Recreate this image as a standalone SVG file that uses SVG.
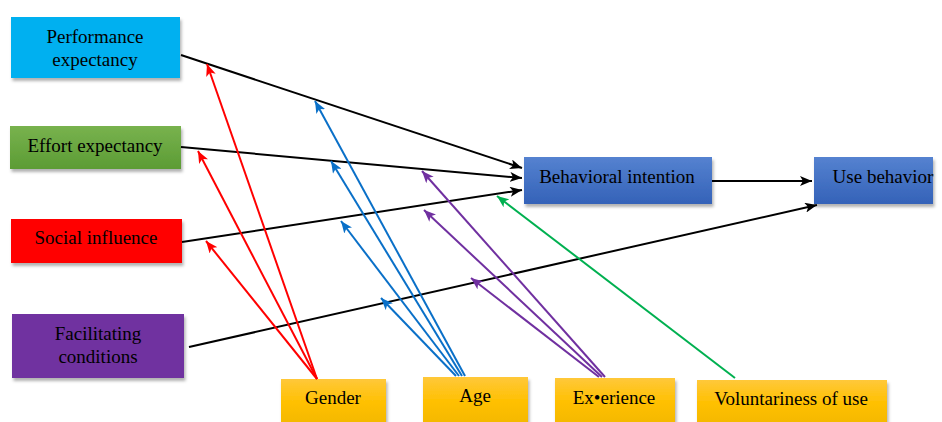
<svg xmlns="http://www.w3.org/2000/svg" width="942" height="422" viewBox="0 0 942 422">
<style>
text{font-family:"Liberation Serif","Times New Roman",serif;font-size:19px;fill:#000;text-anchor:middle}
.box{filter:url(#sh)}
.k{stroke:#000;stroke-width:2;fill:none;marker-end:url(#ak)}
.r{stroke:#ff0000;stroke-width:2;fill:none;marker-end:url(#ar)}
.b{stroke:#0a70c8;stroke-width:2;fill:none;marker-end:url(#ab)}
.p{stroke:#7030a0;stroke-width:2;fill:none;marker-end:url(#ap)}
.g{stroke:#00b050;stroke-width:2;fill:none;marker-end:url(#ag)}
</style>
<defs>
<filter id="sh" x="-10%" y="-10%" width="125%" height="135%">
<feDropShadow dx="1.5" dy="3" stdDeviation="1.5" flood-color="#000" flood-opacity="0.3"/>
</filter>
<linearGradient id="gGreen" x1="0" y1="0" x2="0" y2="1"><stop offset="0" stop-color="#78b24e"/><stop offset="1" stop-color="#5c9c34"/></linearGradient>
<linearGradient id="gBlue" x1="0" y1="0" x2="0" y2="1"><stop offset="0" stop-color="#5582d0"/><stop offset="1" stop-color="#3462b8"/></linearGradient>
<linearGradient id="gYel" x1="0" y1="0" x2="0" y2="1"><stop offset="0" stop-color="#ffc83a"/><stop offset="0.5" stop-color="#ffc000"/><stop offset="1" stop-color="#f2b700"/></linearGradient>
<marker id="ak" viewBox="0 0 12 10" refX="12" refY="5" markerWidth="12" markerHeight="10" markerUnits="userSpaceOnUse" orient="auto"><path d="M0,0 L12,5 L0,10 L3,5 Z" fill="#000"/></marker>
<marker id="ar" viewBox="0 0 12 10" refX="12" refY="5" markerWidth="12" markerHeight="10" markerUnits="userSpaceOnUse" orient="auto"><path d="M0,0 L12,5 L0,10 L3,5 Z" fill="#ff0000"/></marker>
<marker id="ab" viewBox="0 0 12 10" refX="12" refY="5" markerWidth="12" markerHeight="10" markerUnits="userSpaceOnUse" orient="auto"><path d="M0,0 L12,5 L0,10 L3,5 Z" fill="#0a70c8"/></marker>
<marker id="ap" viewBox="0 0 12 10" refX="12" refY="5" markerWidth="12" markerHeight="10" markerUnits="userSpaceOnUse" orient="auto"><path d="M0,0 L12,5 L0,10 L3,5 Z" fill="#7030a0"/></marker>
<marker id="ag" viewBox="0 0 12 10" refX="12" refY="5" markerWidth="12" markerHeight="10" markerUnits="userSpaceOnUse" orient="auto"><path d="M0,0 L12,5 L0,10 L3,5 Z" fill="#00b050"/></marker>
</defs>
<rect width="942" height="422" fill="#fff"/>

<g id="pe"><rect class="box" x="11" y="17" width="169" height="61" fill="#00b0f0"/><text x="95" y="43">Performance</text><text x="95" y="66">expectancy</text></g>
<g id="ee"><rect class="box" x="10" y="126" width="171" height="43" fill="url(#gGreen)"/><text x="95" y="152">Effort expectancy</text></g>
<g id="si"><rect class="box" x="11" y="219" width="171" height="44" fill="#ff0000"/><text x="96" y="244">Social influence</text></g>
<g id="fc"><rect class="box" x="12" y="314" width="172" height="64" fill="#7030a0"/><text x="98" y="340">Facilitating</text><text x="98" y="363">conditions</text></g>
<g id="bi"><rect class="box" x="524" y="157" width="188" height="47" fill="url(#gBlue)"/><text x="617" y="183">Behavioral intention</text></g>
<g id="ub"><rect class="box" x="814" y="157" width="119" height="47" fill="url(#gBlue)"/><text x="883" y="183">Use behavior</text></g>
<g id="gender"><rect class="box" x="281" y="379" width="105" height="48" fill="url(#gYel)"/><text x="333" y="404">Gender</text></g>
<g id="age"><rect class="box" x="423" y="377" width="105" height="50" fill="url(#gYel)"/><text x="475" y="402">Age</text></g>
<g id="exp"><rect class="box" x="555" y="378" width="120" height="49" fill="url(#gYel)"/><text x="614" y="404">Ex•erience</text></g>
<g id="vol"><rect class="box" x="697" y="380" width="190" height="47" fill="url(#gYel)"/><text x="791" y="405">Voluntariness of use</text></g>

<g id="connectors">
<line class="k" x1="181" y1="55" x2="522" y2="168"/>
<line class="k" x1="181" y1="147" x2="522" y2="178"/>
<line class="k" x1="182" y1="242" x2="522" y2="190"/>
<line class="k" x1="189" y1="347" x2="817" y2="205"/>
<line class="k" x1="712" y1="181" x2="812" y2="181"/>

<line class="r" x1="317" y1="379" x2="207" y2="64"/>
<line class="r" x1="317" y1="379" x2="198" y2="151"/>
<line class="r" x1="317" y1="379" x2="206" y2="241"/>

<line class="b" x1="465" y1="376" x2="315" y2="101"/>
<line class="b" x1="462" y1="376" x2="331" y2="161"/>
<line class="b" x1="459" y1="376" x2="341" y2="221"/>
<line class="b" x1="456" y1="376" x2="381" y2="298"/>

<line class="p" x1="605" y1="377" x2="422" y2="171"/>
<line class="p" x1="602" y1="377" x2="424" y2="210"/>
<line class="p" x1="599" y1="377" x2="471" y2="278"/>

<line class="g" x1="735" y1="378" x2="497" y2="196"/>
</g>
</svg>
